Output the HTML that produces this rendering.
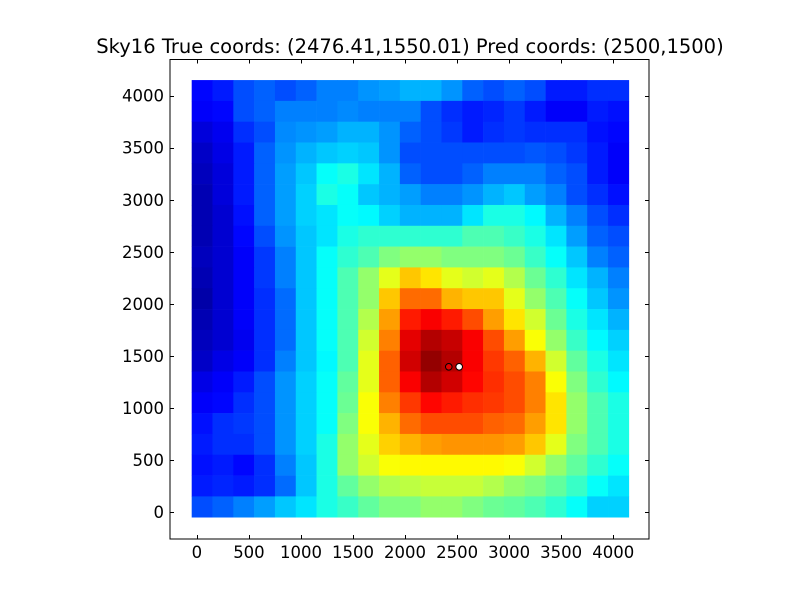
<!DOCTYPE html>
<html><head><meta charset="utf-8"><style>
body{margin:0;background:#fff;}
svg text{font-family:"DejaVu Sans","Liberation Sans",sans-serif;}
</style></head><body>
<svg id="chart" width="800" height="600" xmlns="http://www.w3.org/2000/svg">
<rect x="0" y="0" width="800" height="600" fill="#fff"/>
<text x="410" y="53" font-size="19.5" text-anchor="middle">Sky16 True coords: (2476.41,1550.01) Pred coords: (2500,1500)</text>
<g id="cells"></g>
<g id="marks"></g>
<rect x="170" y="59.5" width="479" height="479.5" fill="none" stroke="#000" stroke-width="1"/>
<g id="axes"></g>
</svg>
<script>
const xTicks=[0,500,1000,1500,2000,2500,3000,3500,4000];
const yTicks=[0,500,1000,1500,2000,2500,3000,3500,4000];
const cellSize=200;
const gridStart=-50;
// rows from top (y high) to bottom
const grid=[
[0.13,0.15,0.2,0.22,0.2,0.22,0.25,0.25,0.27,0.28,0.3,0.3,0.27,0.22,0.2,0.22,0.2,0.15,0.15,0.17,0.17],
[0.12,0.13,0.2,0.22,0.25,0.25,0.25,0.26,0.25,0.25,0.25,0.2,0.17,0.15,0.16,0.18,0.15,0.12,0.12,0.15,0.14],
[0.09,0.11,0.17,0.2,0.26,0.27,0.28,0.3,0.3,0.27,0.22,0.2,0.18,0.15,0.17,0.18,0.17,0.17,0.17,0.14,0.13],
[0.07,0.1,0.15,0.22,0.27,0.3,0.32,0.33,0.32,0.27,0.2,0.2,0.2,0.2,0.2,0.2,0.21,0.2,0.18,0.15,0.12],
[0.06,0.09,0.15,0.22,0.28,0.32,0.38,0.4,0.35,0.3,0.22,0.2,0.2,0.22,0.25,0.25,0.25,0.22,0.2,0.15,0.12],
[0.05,0.09,0.15,0.22,0.28,0.33,0.4,0.38,0.32,0.3,0.28,0.25,0.25,0.27,0.3,0.32,0.28,0.25,0.2,0.17,0.14],
[0.05,0.08,0.14,0.22,0.28,0.33,0.35,0.38,0.37,0.33,0.3,0.3,0.3,0.35,0.4,0.4,0.37,0.3,0.25,0.2,0.17],
[0.05,0.08,0.13,0.2,0.27,0.32,0.35,0.4,0.42,0.42,0.42,0.42,0.42,0.45,0.45,0.43,0.4,0.35,0.28,0.22,0.2],
[0.06,0.08,0.12,0.18,0.25,0.32,0.38,0.42,0.45,0.5,0.52,0.52,0.5,0.5,0.5,0.48,0.43,0.38,0.32,0.25,0.22],
[0.05,0.08,0.12,0.18,0.25,0.32,0.38,0.45,0.52,0.6,0.68,0.65,0.6,0.58,0.6,0.55,0.48,0.42,0.35,0.3,0.25],
[0.04,0.08,0.12,0.17,0.23,0.32,0.38,0.45,0.52,0.68,0.77,0.77,0.7,0.68,0.68,0.6,0.52,0.45,0.38,0.32,0.27],
[0.05,0.08,0.12,0.17,0.23,0.32,0.38,0.45,0.55,0.72,0.85,0.88,0.85,0.8,0.72,0.65,0.58,0.48,0.4,0.35,0.3],
[0.06,0.08,0.11,0.17,0.23,0.32,0.38,0.45,0.58,0.75,0.9,0.95,0.93,0.88,0.8,0.72,0.62,0.52,0.43,0.37,0.33],
[0.07,0.1,0.12,0.17,0.25,0.32,0.37,0.45,0.6,0.78,0.92,0.98,0.95,0.88,0.82,0.78,0.7,0.58,0.47,0.4,0.35],
[0.1,0.12,0.15,0.2,0.27,0.33,0.38,0.47,0.6,0.78,0.88,0.95,0.92,0.87,0.83,0.8,0.75,0.62,0.5,0.42,0.37],
[0.12,0.13,0.17,0.2,0.27,0.33,0.38,0.48,0.62,0.75,0.82,0.87,0.85,0.83,0.82,0.8,0.75,0.65,0.52,0.45,0.4],
[0.14,0.17,0.18,0.2,0.27,0.33,0.38,0.5,0.62,0.7,0.77,0.8,0.8,0.8,0.78,0.77,0.72,0.65,0.52,0.45,0.4],
[0.15,0.17,0.17,0.2,0.27,0.33,0.4,0.52,0.6,0.67,0.7,0.72,0.73,0.73,0.73,0.72,0.68,0.6,0.5,0.45,0.4],
[0.14,0.15,0.13,0.17,0.25,0.32,0.4,0.52,0.58,0.62,0.63,0.63,0.63,0.63,0.63,0.62,0.58,0.52,0.47,0.42,0.38],
[0.15,0.16,0.15,0.17,0.23,0.32,0.4,0.47,0.52,0.55,0.56,0.57,0.57,0.57,0.55,0.52,0.5,0.47,0.43,0.38,0.35],
[0.2,0.22,0.25,0.28,0.32,0.35,0.4,0.43,0.47,0.5,0.5,0.52,0.52,0.5,0.48,0.47,0.45,0.42,0.38,0.33,0.33]
];
const truePoint=[2420,1395];
const predPoint=[2520,1395];

const NS='http://www.w3.org/2000/svg';
const sc=0.10408;
function xs(v){return 196.9+sc*v;}
function ys(v){return 512-sc*v;}
function clamp(a){return Math.max(0,Math.min(1,a));}
function jet(v){
  const r=clamp(1.5-Math.abs(4*v-3)),g=clamp(1.5-Math.abs(4*v-2)),b=clamp(1.5-Math.abs(4*v-1));
  return 'rgb('+Math.round(r*255)+','+Math.round(g*255)+','+Math.round(b*255)+')';
}
const cells=document.getElementById('cells');
const n=grid.length;
for(let r=0;r<n;r++){
  for(let c=0;c<grid[r].length;c++){
    const x0=gridStart+c*cellSize, y1=gridStart+(n-r)*cellSize;
    const el=document.createElementNS(NS,'rect');
    
    
    el.setAttribute('x',xs(x0));
    el.setAttribute('y',ys(y1));
    el.setAttribute('width',sc*cellSize+0.3);
    el.setAttribute('height',sc*cellSize+0.3);
    el.setAttribute('fill',jet(grid[r][c]));
    cells.appendChild(el);
  }
}
const marks=document.getElementById('marks');
[[truePoint,'#e00000','true-coords-marker'],[predPoint,'#ffffff','pred-coords-marker']].forEach(p=>{
  const el=document.createElementNS(NS,'circle');
  
  
  el.setAttribute('cx',xs(p[0][0]));el.setAttribute('cy',ys(p[0][1]));
  el.setAttribute('r',3.3);el.setAttribute('fill',p[1]);el.setAttribute('stroke','#000');el.setAttribute('stroke-width',1);
  marks.appendChild(el);
});
const axes=document.getElementById('axes');
function line(x1,y1,x2,y2){
  const l=document.createElementNS(NS,'line');
  
  
  l.setAttribute('x1',x1);l.setAttribute('y1',y1);l.setAttribute('x2',x2);l.setAttribute('y2',y2);
  l.setAttribute('stroke','#000');l.setAttribute('stroke-width',1);
  axes.appendChild(l);
}
xTicks.forEach(t=>{
  const x=Math.round(xs(t))+0.5;
  line(x,539,x,535);line(x,59.5,x,63.5);
  const tx=document.createElementNS(NS,'text');
  
  
  tx.setAttribute('x',xs(t));tx.setAttribute('y',558);tx.setAttribute('font-size','16.5');tx.setAttribute('text-anchor','middle');
  tx.textContent=t;axes.appendChild(tx);
});
yTicks.forEach(t=>{
  const y=Math.round(ys(t))+0.5;
  line(170,y,174,y);line(649,y,645,y);
  const tx=document.createElementNS(NS,'text');
  
  
  tx.setAttribute('x',164);tx.setAttribute('y',ys(t)+6);tx.setAttribute('font-size','16.5');tx.setAttribute('text-anchor','end');
  tx.textContent=t;axes.appendChild(tx);
});
</script>
</body></html>
